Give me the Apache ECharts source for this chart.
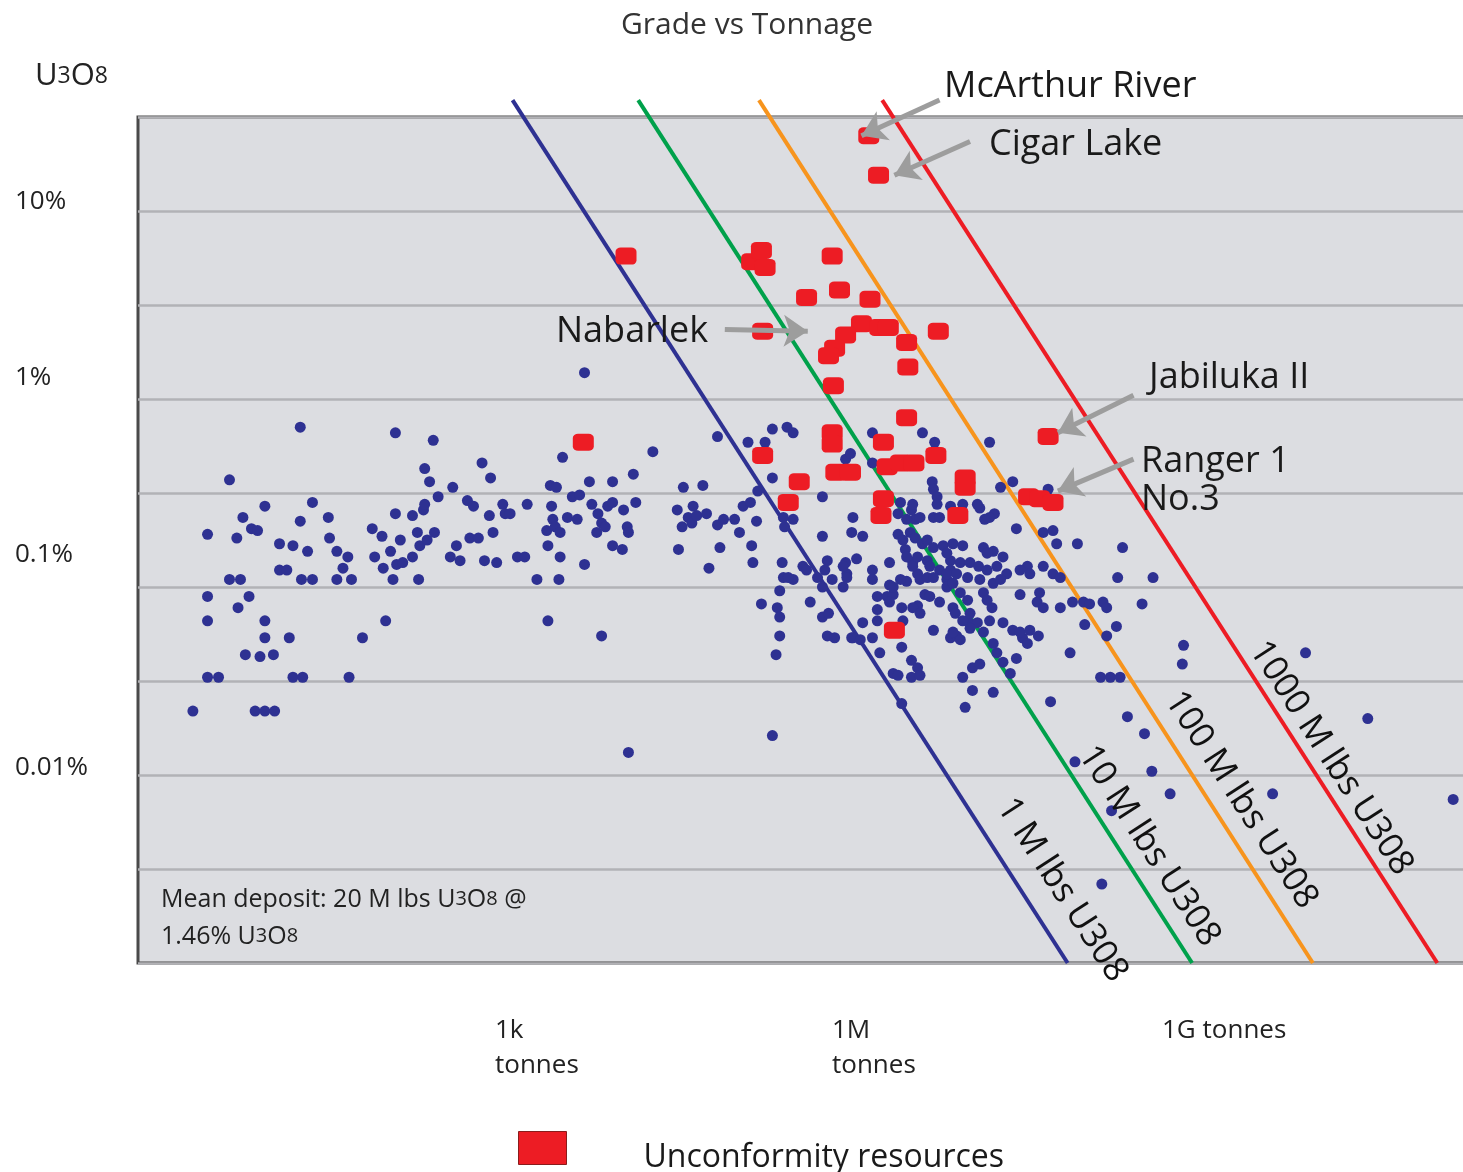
<!DOCTYPE html>
<html>
<head>
<meta charset="utf-8">
<title>Grade vs Tonnage</title>
<script src="https://cdn.jsdelivr.net/npm/echarts@6/dist/echarts.min.js"></script>
<style>
html, body { margin: 0; padding: 0; background: #fff; }
#main { width: 1463px; height: 1172px; }
</style>
</head>
<body>
<div id="main"></div>
<script>
// every point is [log10(ore tonnes), log10(grade, % U3O8)]
var otherDeposits = [
    // small deposits, left cluster
    [0.45,-1.66],[0.57,-0.72],[0.57,-1.05],[0.57,-1.18],[0.57,-1.48],[0.66,-1.48],[0.75,-0.43],[0.75,-0.96],
    [0.84,-0.96],[0.81,-0.74],[0.82,-1.11],[0.86,-0.63],[0.91,-1.05],[0.93,-0.69],[0.98,-0.70],[0.88,-1.36],
    [1.00,-1.37],[1.11,-1.36],[0.96,-1.66],[1.04,-1.66],[1.12,-1.66],[1.04,-0.57],[1.04,-1.18],[1.04,-1.27],
    [1.16,-0.77],[1.27,-0.78],[1.39,-0.81],[1.16,-0.91],[1.22,-0.91],[1.24,-1.27],[1.27,-1.48],[1.35,-1.48],
    [1.33,-0.15],[1.33,-0.65],[1.34,-0.96],[1.43,-0.96],[1.43,-0.55],[1.56,-0.63],[1.57,-0.74],[1.63,-0.81],
    [1.63,-0.96],[1.68,-0.90],[1.72,-0.84],[1.73,-1.48],[1.75,-0.96],[1.84,-1.27],[1.92,-0.69],[1.94,-0.84],
    [2.00,-0.73],[2.01,-0.90],[2.03,-1.18],[2.07,-0.81],[2.09,-0.96],[2.11,-0.18],[2.11,-0.61],[2.12,-0.88],
    [2.17,-0.87],[2.15,-0.75],[2.25,-0.84],[2.25,-0.62],[2.34,-0.59],[2.35,-0.56],[2.29,-0.71],[2.30,-0.96],
    [2.31,-0.78],[2.35,-0.37],[2.37,-0.75],[2.39,-0.44],[2.42,-0.22],[2.43,-0.71],[2.46,-0.52],[2.56,-0.84],
    [2.64,-0.86],[2.58,-0.47],[2.61,-0.78],[2.70,-0.54],[2.75,-0.57],[2.72,-0.74],[2.79,-0.74],[2.82,-0.34],
    [2.84,-0.86],[2.88,-0.62],[2.89,-0.42],[2.91,-0.71],[2.94,-0.87],[2.99,-0.56],[3.01,-0.61],[3.11,-0.84],
    // 1k - 1M tonnes
    [3.05,-0.61],[3.19,-0.56],[3.17,-0.84],[3.27,-0.96],[3.35,-0.70],[3.36,-0.78],[3.36,-1.18],[3.38,-0.46],
    [3.39,-0.57],[3.40,-0.64],[3.42,-0.68],[3.43,-0.47],[3.45,-0.96],[3.46,-0.71],[3.46,-0.84],[3.48,-0.31],
    [3.52,-0.63],[3.56,-0.52],[3.60,-0.64],[3.62,-0.51],[3.66,-0.88],[3.66,0.14],[3.70,-0.44],[3.72,-0.56],
    [3.76,-0.71],[3.77,-0.61],[3.80,-0.66],[3.80,-1.26],[3.83,-0.68],[3.85,-0.57],[3.89,-0.44],[3.89,-0.55],
    [3.89,-0.78],[3.97,-0.80],[3.98,-0.59],[4.01,-0.68],[4.02,-0.71],[4.02,-1.88],[4.06,-0.40],[4.08,-0.55],
    [4.22,-0.28],[4.42,-0.59],[4.43,-0.80],[4.46,-0.68],[4.47,-0.47],[4.51,-0.63],[4.54,-0.66],[4.55,-0.57],
    [4.58,-0.62],[4.63,-0.46],[4.66,-0.61],[4.68,-0.90],[4.75,-0.20],[4.75,-0.67],[4.77,-0.79],[4.80,-0.64],
    [4.89,-0.64],[4.93,-0.71],[4.96,-0.57],[5.02,-0.55],[5.03,-0.78],[5.04,-0.87],[5.07,-0.65],[5.08,-0.49],
    [5.00,-0.23],[5.14,-0.23],[5.20,-0.16],[5.32,-0.15],[5.37,-0.18],[5.20,-0.42],[5.37,-0.64],[5.30,-0.68],
    [5.61,-0.52],[5.61,-0.73],[5.65,-0.86],[5.45,-0.89],[5.28,-0.87],[5.29,-0.95],[5.37,-0.96],[5.26,-1.02],
    [5.57,-0.95],[5.61,-1.00],[5.69,-0.96],[5.51,-1.08],[5.11,-1.09],[5.24,-1.11],[5.26,-1.16],[5.26,-1.26],
    [5.23,-1.36],[5.61,-1.16],[5.66,-1.14],[5.65,-1.26],[5.71,-1.27],[5.20,-1.79],
    // around 1M tonnes and up
    [5.48,-0.91],[5.33,-0.95],[5.63,-0.91],[5.80,-0.87],[5.81,-0.93],[5.89,-0.85],[6.02,-0.91],[6.02,-0.96],
    [6.16,-0.87],[6.16,-0.99],[6.06,-1.05],[6.14,-1.05],[5.85,-1.27],[5.94,-1.19],[6.02,-1.27],[6.06,-1.12],
    [6.26,-1.11],[6.19,-1.04],[6.08,-1.35],[6.26,-1.32],[6.34,-1.39],[6.39,-1.43],[6.19,-1.46],[6.26,-1.62],
    [6.34,-1.48],[6.25,-0.55],[6.34,-0.59],[6.37,-0.64],[6.33,-0.71],[6.29,-0.80],[6.35,-0.87],[6.39,-0.93],
    [6.30,-0.97],[5.86,-0.63],[5.85,-0.71],[5.94,-0.73],[5.29,-0.63],
    [5.80,-0.32],[5.84,-0.29],[6.02,-0.18],[6.02,-0.34],[6.43,-0.18],[6.53,-0.23],[6.98,-0.23],[6.51,-0.44],
    [6.52,-0.48],[6.55,-0.52],[7.07,-0.47],[7.17,-0.44],[7.46,-0.48],[6.23,-0.61],[6.35,-0.56],[6.55,-0.56],
    [6.66,-0.57],[6.76,-0.56],[6.90,-0.58],[7.02,-0.61],[6.98,-0.63],[6.94,-0.64],[6.30,-0.64],[6.41,-0.63],
    [6.52,-0.63],[6.57,-0.63],[7.20,-0.69],[7.42,-0.71],[7.50,-0.70],[7.53,-0.77],[7.70,-0.77],[8.07,-0.79],
    [6.23,-0.72],[6.27,-0.75],[6.37,-0.74],[6.43,-0.77],[6.52,-0.79],[6.60,-0.78],[6.68,-0.77],[6.76,-0.78],
    [6.93,-0.79],[7.01,-0.81],[7.09,-0.84],[6.39,-0.84],[6.47,-0.86],[6.66,-0.86],[6.74,-0.87],[6.66,-0.91],
    [6.57,-0.91],[6.82,-0.87],[6.89,-0.89],[6.96,-0.91],[7.04,-0.89],[7.12,-0.93],[7.29,-0.89],[7.31,-0.93],
    [7.42,-0.89],[7.50,-0.93],[7.56,-0.95],[8.03,-0.95],[8.32,-0.95],[5.78,-0.89],[5.81,-0.95],[5.78,-1.00],
    [6.25,-0.96],[6.41,-0.96],[6.47,-0.95],[6.52,-0.95],[6.63,-0.96],[6.63,-1.00],[6.68,-0.98],[6.80,-0.95],
    [6.90,-0.96],[6.93,-1.03],[7.01,-0.98],[7.23,-1.04],[7.39,-1.03],[7.37,-1.08],[7.42,-1.11],[7.56,-1.11],
    [7.66,-1.08],[7.75,-1.08],[7.80,-1.09],[7.91,-1.08],[7.94,-1.11],[8.23,-1.09],[6.16,-1.08],[6.39,-1.10],
    [6.45,-1.04],[6.57,-1.08],[6.68,-1.11],[6.70,-1.14],[6.80,-1.18],[6.88,-1.19],[7.00,-1.11],[7.09,-1.19],
    [7.17,-1.23],[7.25,-1.27],[7.29,-1.30],[7.38,-1.26],[7.76,-1.20],[7.94,-1.26],[8.02,-1.21],[7.64,-1.35],
    [5.86,-1.27],[5.92,-1.28],[6.06,-1.18],[6.27,-1.18],[6.23,-1.47],[6.41,-1.47],[6.66,-1.27],[6.71,-1.26],
    [6.74,-1.28],[6.82,-1.22],[7.01,-1.30],[7.04,-1.35],[7.20,-1.38],[7.09,-1.40],[7.15,-1.46],[6.76,-1.48],
    [6.84,-1.43],[6.90,-1.41],[7.48,-1.61],[6.84,-1.55],[7.01,-1.56],[6.78,-1.64],[7.89,-1.48],[7.97,-1.48],
    [8.05,-1.48],[8.11,-1.69],[8.25,-1.78],
    [6.88,-0.56],[6.47,-0.75],[6.63,-0.82],[6.96,-0.82],[6.30,-0.84],[6.35,-0.89],[6.49,-0.89],[6.63,-0.93],
    [6.71,-0.93],[7.07,-0.96],[7.23,-0.91],[6.19,-1.00],[6.49,-1.05],[6.74,-1.03],[6.80,-1.07],[6.96,-1.07],
    [6.35,-1.11],[6.41,-1.14],[6.76,-1.18],[6.82,-1.14],[6.93,-1.24],[6.98,-1.18],[7.23,-1.24],[7.31,-1.23],
    [6.68,-1.24],[6.52,-1.23],
    // large, low grade
    [7.68,-1.93],[7.90,-2.58],[7.98,-2.19],[8.31,-1.98],[8.46,-2.10],[8.57,-1.31],[8.56,-1.41],[9.30,-2.10],
    [9.57,-1.35],[10.08,-1.70],[10.78,-2.13]
];

var unconformity = [
    [5.99,1.40],[6.07,1.19],[4.00,0.76],[5.03,0.73],[5.11,0.79],[5.14,0.70],[5.69,0.76],[5.48,0.54],
    [5.75,0.58],[6.00,0.53],[5.93,0.40],[6.08,0.38],[6.15,0.38],[5.80,0.34],[5.71,0.27],[5.66,0.23],
    [6.30,0.30],[6.31,0.17],[5.70,0.07],[6.56,0.36],[5.12,0.36],[3.65,-0.23],[5.12,-0.30],[5.42,-0.44],
    [5.33,-0.55],[5.69,-0.18],[5.69,-0.24],[5.72,-0.39],[5.84,-0.39],[6.14,-0.36],[6.25,-0.34],[6.36,-0.34],
    [6.11,-0.23],[6.30,-0.10],[6.54,-0.30],[6.78,-0.42],[6.78,-0.47],[6.11,-0.53],[6.09,-0.62],[6.72,-0.62],
    [7.46,-0.20],[7.30,-0.52],[7.39,-0.53],[7.50,-0.55],[6.20,-1.23]
];

// constant-content lines (M lbs U3O8): x at the top and at the bottom of each line
var isoNames = ['1 M lbs U308', '10 M lbs U308', '100 M lbs U308', '1000 M lbs U308'];
var isoTopX = [3.07, 4.10, 5.09, 6.10];
var isoBottomX = [7.62, 8.64, 9.63, 10.65];
var isoY = [1.59, -3.0];

var gradeTicks = [1, 0, -1, -2];
var gradeLabels = ['10%', '1%', '0.1%', '0.01%'];
var tonTicks = [3, 6, 9];
var tonLabels = [['1k', 'tonnes'], ['1M', 'tonnes'], ['1G tonnes']];

var dom = document.getElementById('main');
var myChart = echarts.init(dom);

var font = '"Open Sans", "Noto Sans", sans-serif';
var isoColors = ['#2e3192', '#00a14b', '#f7941d', '#ed1c24'];
var isoLabelPos = [[1062, 890], [1149, 846], [1241, 800], [1331, 758]];
// the figure prints its grade labels a little above their grid lines
var gradeLift = [18, 42, 64, 14];
// and its tonnage labels as left-aligned blocks, slightly off their ticks
var tonBox = [[84, 66, 0], [84, 8, 0], [128, 0, 20]];

var series = [];
isoNames.forEach(function (name, i) {
    series.push({
        name: name,
        type: 'line',
        data: [[isoTopX[i], isoY[0]], [isoBottomX[i], isoY[1]]],
        symbol: 'none',
        clip: false,
        silent: true,
        lineStyle: { color: isoColors[i], width: 4 },
        z: 2
    });
});
series.push({
    name: 'Other deposits',
    type: 'scatter',
    data: otherDeposits,
    symbol: 'circle',
    symbolSize: 11,
    itemStyle: { color: '#2e3192', opacity: 1 },
    z: 3
});
series.push({
    name: 'Unconformity resources',
    type: 'scatter',
    data: unconformity,
    symbol: 'roundRect',
    symbolSize: [21, 17],
    itemStyle: { color: '#ed1c24', opacity: 1 },
    z: 4
});
series.push({
    type: 'lines',
    coordinateSystem: 'cartesian2d',
    clip: false,
    silent: true,
    symbol: ['none', 'arrow'],
    symbolSize: 24,
    lineStyle: { color: '#9d9d9d', width: 5, opacity: 1 },
    data: [
        { coords: [[6.57, 1.59], [5.93, 1.40]] },
        { coords: [[6.82, 1.37], [6.20, 1.19]] },
        { coords: [[4.81, 0.37], [5.49, 0.36]] },
        { coords: [[8.16, 0.02], [7.54, -0.18]] },
        { coords: [[8.16, -0.32], [7.54, -0.49]] }
    ],
    z: 5
});

function txt(text, x, y, size, extra) {
    var st = { text: text, x: x, y: y, fill: '#1a1a1a', fontSize: size, fontFamily: font,
        align: 'left', verticalAlign: 'middle' };
    for (var k in extra) st[k] = extra[k];
    return { type: 'text', z: 100, style: st };
}
var small = { s: { fontSize: 20, fontFamily: font, fill: '#222' } };

var graphic = [
    txt('McArthur River', 944, 87, 36),
    txt('Cigar Lake', 989, 145, 36),
    txt('Nabarlek', 556, 332, 36),
    txt('Jabiluka II', 1149, 378, 36),
    txt('Ranger 1\nNo.3', 1141, 481, 36, { lineHeight: 38 }),
    txt('U{s|3}O{s|8}', 35, 76, 31, { fill: '#222', rich: { s: { fontSize: 23, fontFamily: font, fill: '#222' } } }),
    txt('Mean deposit: 20 M lbs U{s|3}O{s|8} @\n1.46% U{s|3}O{s|8}', 161, 918, 25,
        { fill: '#222', lineHeight: 37, rich: small })
];
isoNames.forEach(function (name, i) {
    graphic.push({
        type: 'text', z: 100,
        x: isoLabelPos[i][0], y: isoLabelPos[i][1],
        rotation: -Math.atan(188 / 122),
        style: { text: name, fill: '#111', fontSize: 35, fontFamily: font, align: 'center', verticalAlign: 'middle' }
    });
});

var gradeRich = {};
gradeTicks.forEach(function (t, i) {
    gradeRich['g' + i] = { fontSize: 26, color: '#222', fontFamily: font, padding: [0, 0, gradeLift[i], 0] };
});
var tonRich = {};
tonTicks.forEach(function (t, i) {
    tonRich['t' + i] = {
        fontSize: 26, lineHeight: 35, color: '#222', fontFamily: font, align: 'left',
        width: tonBox[i][0], padding: [0, tonBox[i][2], 0, tonBox[i][1]]
    };
});

var option = {
    animation: false,
    backgroundColor: '#ffffff',
    title: {
        text: 'Grade vs Tonnage',
        left: 616, top: 5,
        textStyle: { fontSize: 30, fontWeight: 'normal', color: '#333', fontFamily: font }
    },
    legend: {
        data: ['Unconformity resources'],
        left: 513, top: 1126,
        icon: 'rect',
        itemWidth: 48, itemHeight: 33,
        itemStyle: { borderColor: '#8a1c1c', borderWidth: 1 },
        formatter: '{a|{name}}',
        textStyle: {
            rich: { a: { fontSize: 32, color: '#1a1a1a', fontFamily: font, padding: [20, 0, 0, 72] } }
        }
    },
    grid: {
        left: 138, top: 117, width: 1342, height: 846,
        outerBoundsMode: 'none',
        show: true,
        backgroundColor: '#dcdde1',
        borderColor: '#4a4a4a',
        borderWidth: 3
    },
    xAxis: {
        type: 'value', min: 0, max: 11, interval: 1,
        axisLine: { show: false }, axisTick: { show: false }, splitLine: { show: false },
        axisLabel: {
            customValues: tonTicks,
            formatter: function (v) {
                var i = tonTicks.indexOf(Math.round(v));
                return tonLabels[i].map(function (s) { return '{t' + i + '|' + s + '}'; }).join('\n');
            },
            rich: tonRich,
            margin: 50, fontSize: 26, lineHeight: 35, color: '#222', fontFamily: font,
            verticalAlign: 'top'
        }
    },
    yAxis: {
        type: 'value', min: -3, max: 1.5, interval: 0.5,
        axisLine: { show: false }, axisTick: { show: false },
        splitLine: { show: true, lineStyle: { color: '#b2b2b6', width: 2.5 } },
        axisLabel: {
            customValues: gradeTicks,
            formatter: function (v) {
                var i = gradeTicks.indexOf(Math.round(v));
                return '{g' + i + '|' + gradeLabels[i] + '}';
            },
            rich: gradeRich,
            align: 'left', margin: 123, verticalAlign: 'middle',
            fontSize: 26, color: '#222', fontFamily: font
        }
    },
    graphic: graphic,
    series: series
};

if (option && typeof option === 'object') {
    myChart.setOption(option, true);
}
</script>
</body>
</html>
